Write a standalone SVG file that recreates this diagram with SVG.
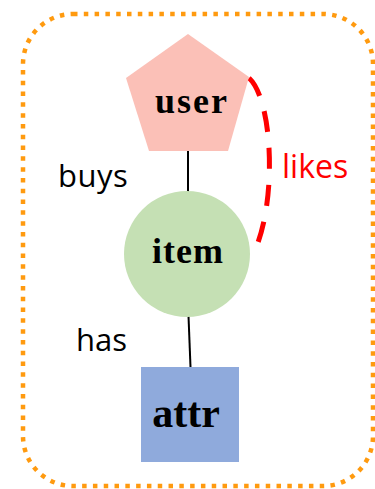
<svg xmlns="http://www.w3.org/2000/svg" width="375" height="489" viewBox="0 0 375 489">
  <style>
    .node-label { font-family: "Liberation Serif", "Times New Roman", serif; font-weight: bold; fill: #000; text-anchor: middle; }
    .edge-label { font-family: "Open Sans", "Liberation Sans", sans-serif; fill: #000; }
    .tie { stroke: #000; stroke-width: 2; fill: none; }
  </style>
  <rect width="375" height="489" fill="#ffffff"/>

  <!-- dotted boundary around the whole schema -->
  <rect id="boundary" x="23" y="14" width="350" height="472" rx="50" ry="50"
        fill="none" stroke="#FF9A0F" stroke-width="4.5" stroke-dasharray="4.5 6.3"/>

  <g id="connectors">
    <line class="tie" x1="188" y1="151" x2="188" y2="192"/>
    <line class="tie" x1="188.5" y1="316" x2="190.5" y2="367"/>
    <path d="M249 78 C 273 100, 277 200, 255 250" fill="none" stroke="#FF0000"
          stroke-width="5" stroke-dasharray="21 16"/>
    <text class="edge-label" x="58" y="187" font-size="31" letter-spacing="0.5">buys</text>
    <text class="edge-label" x="282" y="178" font-size="32" style="fill:#FF0000">likes</text>
    <text class="edge-label" x="76" y="351" font-size="31">has</text>
  </g>

  <g id="user">
    <polygon points="188,34 249,77 228,151 149,151 126,78" fill="#FBC0B7"/>
    <text class="node-label" x="192" y="113" font-size="36" letter-spacing="2">user</text>
  </g>

  <g id="item">
    <circle cx="187" cy="254" r="63" fill="#C5E0B4"/>
    <text class="node-label" x="188" y="263" font-size="36" letter-spacing="1">item</text>
  </g>

  <g id="attr">
    <rect x="141" y="367" width="98" height="95" fill="#8FAADC"/>
    <text class="node-label" x="186" y="427" font-size="42">attr</text>
  </g>
</svg>
